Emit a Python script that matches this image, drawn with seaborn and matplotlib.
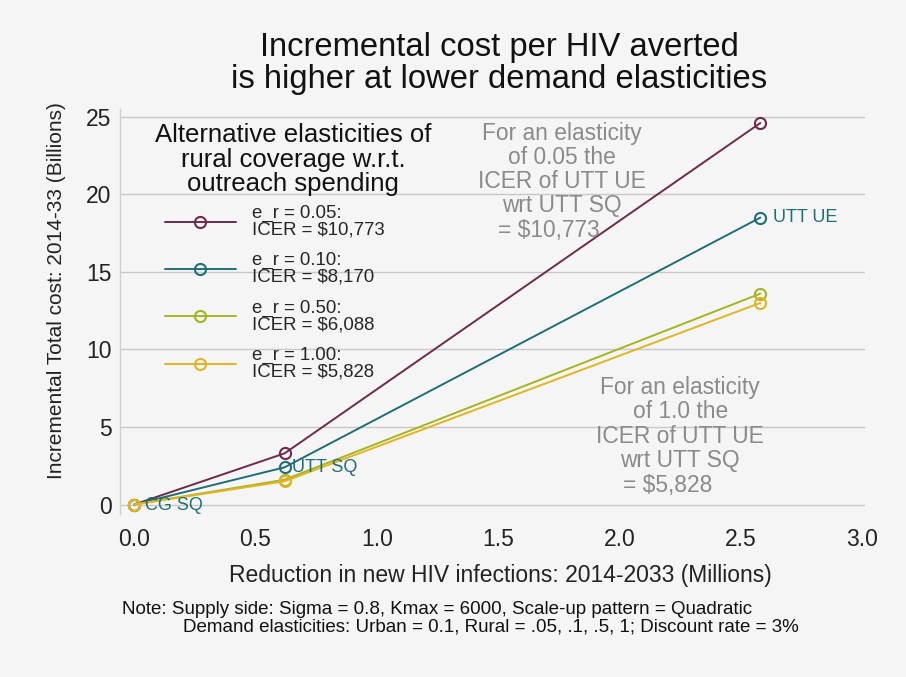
import matplotlib
matplotlib.use("Agg")
import matplotlib.pyplot as plt
import seaborn as sns
import pandas as pd
import numpy as np

# ---- data ----
reduction = [0.0, 0.62, 2.58]          # millions of infections averted
cost_e005 = [0.0, 3.3, 24.6]           # billions
cost_e010 = [0.0, 2.4, 18.5]
cost_e050 = [0.0, 1.6, 13.6]
cost_e100 = [0.0, 1.5, 13.0]
series_labels = ["e_r = 0.05:\nICER = $10,773",
                 "e_r = 0.10:\nICER = $8,170",
                 "e_r = 0.50:\nICER = $6,088",
                 "e_r = 1.00:\nICER = $5,828"]
point_labels = ["CG SQ", "UTT SQ", "UTT UE"]
x_ticks = [0.0, 0.5, 1.0, 1.5, 2.0, 2.5, 3.0]
y_ticks = [0, 5, 10, 15, 20, 25]

colors = ["#6e2a4a", "#1e6e78", "#a4b520", "#e2b422"]

sns.set_theme(style="white")
plt.rcParams["font.family"] = ["Liberation Sans", "DejaVu Sans"]

df = pd.DataFrame({
    "x": reduction * 4,
    "y": cost_e005 + cost_e010 + cost_e050 + cost_e100,
    "series": sum([[s] * 3 for s in series_labels], []),
})

bg = "#f5f5f5"
fig = plt.figure(figsize=(9.06, 6.77), dpi=100, facecolor=bg)
ax = fig.add_axes([0.1325, 0.241, 0.822, 0.598])
ax.set_facecolor(bg)

for lab, col in zip(series_labels, colors):
    sub = df[df["series"] == lab]
    sns.lineplot(data=sub, x="x", y="y", ax=ax, color=col, lw=1.4,
                 marker="o", markersize=8, markerfacecolor="none",
                 markeredgecolor=col, markeredgewidth=1.5, label=lab)

# marker labels (teal series)
teal = colors[1]
offsets = [(8, -1), (5, 0), (9, 0)]
for i, lab in enumerate(point_labels):
    ax.annotate(lab, (reduction[i], cost_e010[i]), xytext=offsets[i],
                textcoords="offset points", va="center", ha="left",
                fontsize=13, color=teal)

ax.set_xlim(-0.058, 3.01)
ax.set_ylim(-0.6, 25.5)
ax.set_xticks(x_ticks)
ax.set_xticklabels([f"{v:.1f}" for v in x_ticks])
ax.set_yticks(y_ticks)
ax.tick_params(axis="both", labelsize=16.5, length=0, colors="#222222")
ax.tick_params(axis="x", pad=10)
ax.tick_params(axis="y", pad=6)
ax.grid(axis="y", color="#c8c8c8", lw=1.0)
ax.set_axisbelow(True)
for s in ["top", "right", "bottom"]:
    ax.spines[s].set_visible(False)
ax.spines["left"].set_color("#d0d0d0")
ax.spines["left"].set_linewidth(1.0)

ax.set_xlabel("Reduction in new HIV infections: 2014-2033 (Millions)", fontsize=16.5,
              color="#222222")
ax.xaxis.set_label_coords((500 - 120) / 745, -(564 - 514) / 405)
ax.set_ylabel("Incremental Total cost: 2014-33 (Billions)", fontsize=15,
              color="#222222")
ax.yaxis.set_label_coords((66 - 120) / 745, (514 - 291) / 405)

fig.text(499 / 906, 1 - 63.5 / 677,
         "Incremental cost per HIV averted\nis higher at lower demand elasticities",
         ha="center", va="center", fontsize=23.6, color="#111111", linespacing=1.05)

ann_col = "#8a8a8a"
ax.text(1.763, 20.8, "For an elasticity\nof 0.05 the\nICER of UTT UE\nwrt UTT SQ\n= $10,773    ",
        ha="center", va="center", fontsize=16.4, color=ann_col, linespacing=1.06)
ax.text(2.25, 4.4, "For an elasticity\nof 1.0 the\nICER of UTT UE\nwrt UTT SQ\n= $5,828    ",
        ha="center", va="center", fontsize=16.4, color=ann_col, linespacing=1.08)

# legend title (drawn as centered text block) and legend entries
fig.text(293 / 906, 1 - 159.5 / 677,
         "Alternative elasticities of\nrural coverage w.r.t.\noutreach spending",
         ha="center", va="center", fontsize=18.5, color="#111111",
         multialignment="center", linespacing=1.05)
leg = ax.legend(loc="upper left", bbox_to_anchor=(165 / 906, 1 - 205 / 677),
                bbox_transform=fig.transFigure, frameon=False, fontsize=13.4,
                handlelength=3.8, handletextpad=0.86,
                labelspacing=0.74, borderpad=0.0, borderaxespad=0.0)
for t in leg.get_texts():
    t.set_linespacing(0.95)

fig.text(122 / 906, 1 - 609 / 677,
         "Note: Supply side: Sigma = 0.8, Kmax = 6000, Scale-up pattern = Quadratic",
         ha="left", va="center", fontsize=13.5, color="#111111")
fig.text(183 / 906, 1 - 627 / 677,
         "Demand elasticities: Urban = 0.1, Rural = .05, .1, .5, 1; Discount rate = 3%",
         ha="left", va="center", fontsize=13.5, color="#111111")

fig.savefig("out.png", dpi=100, facecolor=bg)
